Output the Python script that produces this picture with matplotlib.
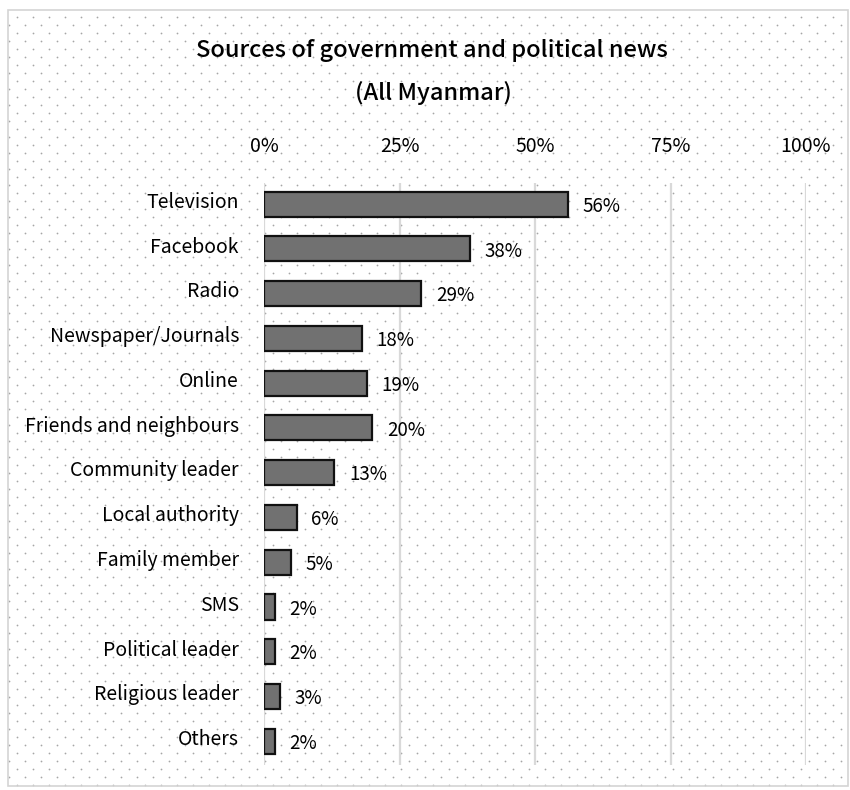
import numpy as np
import matplotlib.pyplot as plt
import matplotlib.transforms as mtransforms
from matplotlib.patches import Rectangle

plt.rcParams['font.family'] = ['Noto Sans CJK JP', 'DejaVu Sans']

categories = ['Television', 'Facebook', 'Radio', 'Newspaper/Journals', 'Online',
              'Friends and neighbours', 'Community leader', 'Local authority',
              'Family member', 'SMS', 'Political leader', 'Religious leader', 'Others']
values = [56, 38, 29, 18, 19, 20, 13, 6, 5, 2, 2, 3, 2]
ticks = [0, 25, 50, 75, 100]

W, H = 850, 790
fig = plt.figure(figsize=(W / 100, H / 100), dpi=100)

# dotted backdrop and frame, drawn in pixel coordinates
bg = fig.add_axes([0, 0, 1, 1], zorder=0)
bg.set_xlim(0, W)
bg.set_ylim(H, 0)
bg.axis('off')
bx0, by0, bx1, by1 = 8, 10, 848, 786
pts = []
for i, y in enumerate(np.arange(by0 + 7, by1, 8)):
    start = bx0 + 9 if i % 2 == 0 else bx0 + 1
    for x in np.arange(start, bx1, 16):
        pts.append((x, y))
pts = np.array(pts)
bg.scatter(pts[:, 0], pts[:, 1], s=1.6, color='#a6a6a6', linewidths=0)
bg.add_patch(Rectangle((bx0, by0), bx1 - bx0, by1 - by0, fill=False,
                       edgecolor='#d4d4d4', linewidth=1.2))

fig.text(432 / W, 1 - 51 / H, 'Sources of government and political news',
         ha='center', va='center', fontsize=17, fontweight='medium')
fig.text(433 / W, 1 - 93 / H, '(All Myanmar)', ha='center', va='center',
         fontsize=17, fontweight='medium')

ax = fig.add_axes([264 / W, 1 - 765 / H, 542 / W, (765 - 183) / H], zorder=1)
ax.patch.set_alpha(0)
y = np.arange(len(categories))
ax.barh(y, values, height=0.56, color='#717171', edgecolor='#111111',
        linewidth=1.6, zorder=3)
for yi, v in zip(y, values):
    ax.text(v + 2.7, yi + 0.05, f'{v}%', va='center', ha='left', fontsize=13.5)

ax.set_xlim(0, 100)
ax.set_ylim(len(categories) - 0.47, -0.47)
ax.set_xticks(ticks)
ax.set_xticklabels([f'{t}%' for t in ticks])
ax.set_yticks(y)
ax.set_yticklabels(categories)
ax.xaxis.tick_top()
ax.tick_params(axis='x', length=0, pad=19, labelsize=14)
ax.tick_params(axis='y', length=0, pad=18, labelsize=14)
lift = mtransforms.ScaledTranslation(0, 3 / 72, fig.dpi_scale_trans)
for lab in ax.get_yticklabels():
    lab.set_transform(lab.get_transform() + lift)
ax.grid(True, axis='x', color='#d9d9d9', linewidth=1.6, zorder=1)
for s in ax.spines.values():
    s.set_visible(False)

fig.savefig('out.png', dpi=100)
